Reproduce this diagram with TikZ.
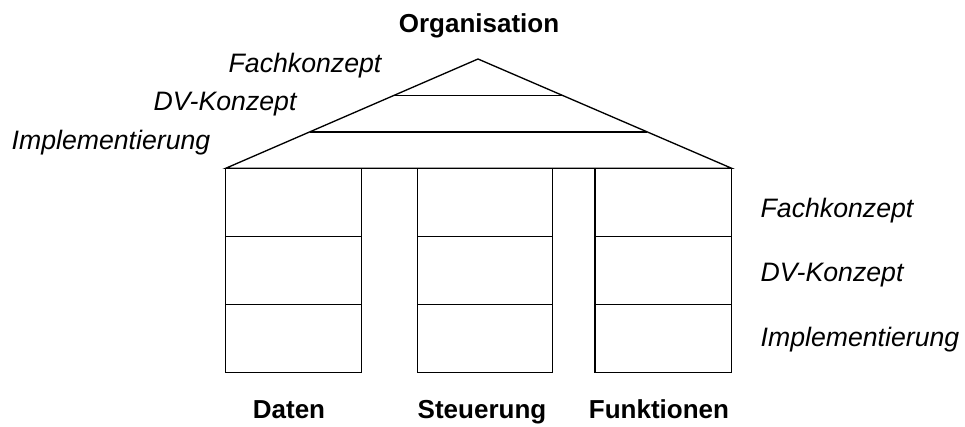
\documentclass[tikz,border=0pt]{standalone}
\usepackage{fontspec}
\setmainfont{Liberation Sans}
\usetikzlibrary{calc}
\begin{document}
\begin{tikzpicture}[x=0.75pt,y=-0.75pt,line width=1pt,
  layer/.style={font=\fontsize{20}{24}\selectfont\itshape,anchor=base west,inner sep=0pt},
  view/.style={font=\fontsize{19.5}{23}\selectfont\bfseries,anchor=base,inner sep=0pt}]
\useasboundingbox (0,0) rectangle (965,427);

% roof: the organisation view spanning all three pillars
\coordinate (apex) at (478,59);
\coordinate (roofL) at (225.7,168.3);
\coordinate (roofR) at (731.7,168.3);
\draw[line join=miter] (roofL) -- (apex) -- (roofR) -- cycle;
\draw ($(roofL)!0.3333!(apex)$) -- ($(roofR)!0.3333!(apex)$);
\draw ($(roofL)!0.6667!(apex)$) -- ($(roofR)!0.6667!(apex)$);

% pillars: three description layers each
\foreach \l/\r in {225.7/361.7, 417.3/552.7, 595/731.7} {
  \draw (\l,168.3) rectangle (\r,372.7);
  \draw (\l,236.4) -- (\r,236.4);
  \draw (\l,304.5) -- (\r,304.5);
}

% view names
\node[view] (org) at (479,33) {Organisation};
\node[view] (daten) at (289,419) {Daten};
\node[view] (steuer) at (482,419) {Steuerung};
\node[view] (funk) at (659,419) {Funktionen};

% layer names beside the roof
\node[layer] (rFach) at (228,73) {Fachkonzept};
\node[layer] (rDV) at (153,111) {DV-Konzept};
\node[layer] (rImpl) at (11,150) {Implementierung};

% layer names beside the pillars
\node[layer] (pFach) at (760,218) {Fachkonzept};
\node[layer] (pDV) at (760,282) {DV-Konzept};
\node[layer] (pImpl) at (760,347) {Implementierung};
\end{tikzpicture}
\end{document}
